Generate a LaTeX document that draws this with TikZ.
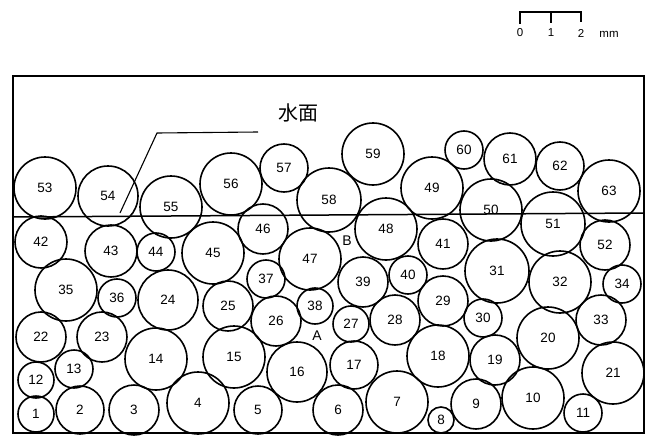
\documentclass[tikz,border=0pt]{standalone}
\usepackage{fontspec}
\setmainfont{Liberation Sans}
\newfontfamily\cjk{Noto Sans CJK JP}
\begin{document}
\begin{tikzpicture}[x=1pt,y=-1pt,
  ball/.style={circle, draw, line width=1.6pt, inner sep=0pt, font=\fontsize{13.5}{13.5}\selectfont},
  thinline/.style={line width=1.5pt},
  lbl/.style={inner sep=0pt, font=\fontsize{14}{14}\selectfont},
  scalelbl/.style={inner sep=0pt, font=\fontsize{11.5}{11.5}\selectfont}]
\useasboundingbox (0,0) rectangle (653,436);
% frame
\coordinate (fTL) at (13,76);
\coordinate (fBR) at (644,433);
\draw[thinline] (fTL) rectangle (fBR);
% balls
\foreach \n/\x/\y/\r in {
 1/36/414/18, 2/80/410/24, 3/134/410/25, 4/198/403/31, 5/258/410/24,
 6/338/410/25, 7/397/402/31, 8/441/420/13, 9/476/404/25, 10/533/398/31,
 11/583/413/19, 12/36/380/18, 13/74/369/19, 14/156/359/31, 15/234/357/31,
 16/297/372/30, 17/354/365/24, 18/438/356/31, 19/495/360/25, 20/548/338/31,
 21/613/373/31, 22/41/337/25, 23/102/337/25, 24/168/300/30, 25/228/306/25,
 26/276/321/25, 27/351/324/18, 28/395/320/25, 29/443/301/25, 30/483/318/19,
 31/497/271/32, 32/560/282/31, 33/601/320/25, 34/622/284/19, 35/66/290/31,
 36/117/298/19, 37/266/279/19, 38/315/306/18, 39/363/282/25, 40/408/275/19,
 41/443/244/25, 42/41/242/26, 43/111/251/26, 44/156/252/19, 45/213/253/31,
 46/263/229/25, 47/310/259/31, 48/386/229/31, 49/432/188/31, 50/491/210/31,
 51/553/224/32, 52/605/245/25, 53/45/188/31, 54/108/196/30, 55/171/207/31,
 56/231/184/31, 57/284/168/24, 58/329/200/32, 59/373/154/31, 60/464/150/19,
 61/510/159/26, 62/560/166/24, 63/609/191/31}
 { \node[ball, minimum size={2*\r pt}] (c\n) at (\x,\y) {\n}; }
% water surface
\coordinate (wL) at (13,217);
\coordinate (wR) at (644,213);
\draw[thinline] (wL) -- (wR);
% leader and label
\coordinate (ld0) at (120,213);
\coordinate (ld1) at (157,133);
\coordinate (ld2) at (258,132);
\draw[line width=1.1pt] (ld0) -- (ld1) -- (ld2);
\node[inner sep=0pt, font=\fontsize{20}{20}\cjk] (suimen) at (298,113) {水面};
% points A and B
\node[lbl] (ptA) at (317,336) {A};
\node[lbl] (ptB) at (347,241) {B};
% scale bar
\coordinate (s0) at (520,12);
\coordinate (s1) at (551,12);
\coordinate (s2) at (581,12);
\coordinate (s0b) at (520,24);
\coordinate (s1b) at (551,23);
\coordinate (s2b) at (581,22);
\draw[thinline] (s0b) -- (s0) -- (s2) -- (s2b);
\draw[thinline] (s1) -- (s1b);
\node[scalelbl] (t0) at (520,33) {0};
\node[scalelbl] (t1) at (551,33) {1};
\node[scalelbl] (t2) at (581,33) {2};
\node[scalelbl] (tmm) at (609,34) {mm};
\end{tikzpicture}
\end{document}
